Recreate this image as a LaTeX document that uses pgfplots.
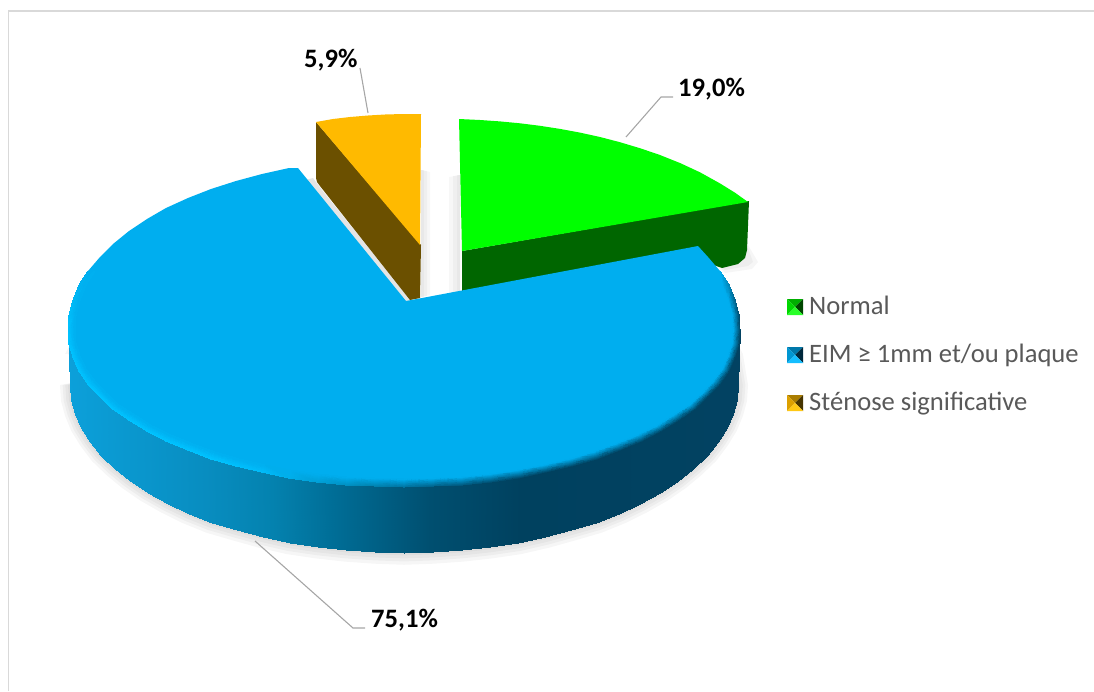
\documentclass[border=0pt]{standalone}
\usepackage{pgfplots}
\usepackage{pgfplotstable}
\usepackage{fontspec}
\setmainfont{Carlito}
\pgfplotsset{compat=1.18}

\definecolor{topblue}{RGB}{0,174,239}
\definecolor{topgreen}{RGB}{0,255,0}
\definecolor{sidegreen}{RGB}{0,102,0}
\definecolor{toporange}{RGB}{255,186,0}
\definecolor{sideorange}{RGB}{107,80,0}
\definecolor{legendtext}{RGB}{89,89,89}
\definecolor{leader}{RGB}{166,166,166}
\definecolor{framegray}{RGB}{217,217,217}

% Lower outline of the large slice, closed behind its top face, for the cast shadow
\pgfplotstableread{
x y
75 356
90 328
404 325
70 385
71 400
75 414
81 428
90 442
101 456
115 469
130 481
148 493
168 504
189 514
212 523
237 530
263 537
290 543
318 547
346 550
375 552
404 553
433 552
462 550
490 547
518 543
545 537
571 530
596 523
619 514
640 504
660 493
678 481
693 469
707 456
718 442
727 428
733 414
737 400
738 385
733 356
718 328
404 325
}\shadowoutline

% Wall of the large slice: upper edge, then lower edge
\pgfplotstableread{
x y
68 330
69 344
73 357
79 371
88 384
100 396
113 409
129 420
147 431
166 441
188 450
211 459
236 466
262 472
289 478
317 482
346 485
375 486
404 487
433 486
462 485
491 482
519 478
546 472
572 466
597 459
620 450
642 441
661 431
679 420
695 409
708 396
720 384
729 371
735 357
739 344
740 330
70 385
71 400
75 414
81 428
90 442
101 456
115 469
130 481
148 493
168 504
189 514
212 523
237 530
263 537
290 543
318 547
346 550
375 552
404 553
433 552
462 550
490 547
518 543
545 537
571 530
596 523
619 514
640 504
660 493
678 481
693 469
707 456
718 442
727 428
733 414
737 400
738 385
}\wallblue

% Bevel along the rim of the large slice: outer edge, then inner edge, with a colour per vertex
\pgfplotstableread{
x y c
88 271 0,.682,.937
79 285 0,.698,.945
73 300 0,.722,.961
69 315 0,.745,.98
68 330 0,.765,1
69 344 0,.765,1
73 357 0,.765,1
79 371 0,.765,1
88 384 0,.765,1
100 396 0,.765,1
113 409 0,.765,1
129 420 0,.765,1
147 431 0,.765,1
166 441 0,.765,1
188 450 0,.765,1
211 459 0,.765,1
236 466 0,.753,.992
262 472 0,.737,.98
289 478 0,.686,.922
317 482 0,.627,.843
346 485 0,.569,.765
375 486 0,.51,.686
404 487 0,.451,.627
433 486 0,.392,.549
462 485 0,.345,.49
491 482 0,.306,.439
519 478 0,.275,.4
546 472 0,.275,.4
572 466 0,.275,.4
597 459 0,.275,.4
620 450 0,.275,.4
642 441 0,.275,.4
661 431 0,.275,.4
679 420 0,.275,.4
695 409 0,.275,.4
708 396 0,.275,.4
720 384 0,.275,.4
729 371 0,.275,.4
735 357 0,.275,.4
739 344 0,.275,.4
740 330 0,.275,.4
739 315 0,.294,.431
735 300 0,.373,.529
729 285 0,.51,.706
720 271 0,.682,.937
95 271 0,.682,.937
86 285 0,.682,.937
80 300 0,.682,.937
76 315 0,.682,.937
75 330 0,.682,.937
76 343 0,.682,.937
80 356 0,.682,.937
86 369 0,.682,.937
95 381 0,.682,.937
106 393 0,.682,.937
119 405 0,.682,.937
135 415 0,.682,.937
152 426 0,.682,.937
171 435 0,.682,.937
193 444 0,.682,.937
215 452 0,.682,.937
239 459 0,.682,.937
265 465 0,.682,.937
291 470 0,.682,.937
319 474 0,.682,.937
347 477 0,.682,.937
375 478 0,.682,.937
404 479 0,.682,.937
433 478 0,.682,.937
461 477 0,.682,.937
489 474 0,.682,.937
517 470 0,.682,.937
543 465 0,.682,.937
569 459 0,.682,.937
593 452 0,.682,.937
615 444 0,.682,.937
637 435 0,.682,.937
656 426 0,.682,.937
673 415 0,.682,.937
689 405 0,.682,.937
702 393 0,.682,.937
713 381 0,.682,.937
722 369 0,.682,.937
728 356 0,.682,.937
732 343 0,.682,.937
733 330 0,.682,.937
732 315 0,.682,.937
728 300 0,.682,.937
722 285 0,.682,.937
713 271 0,.682,.937
}\bevelblue

% Four-faced legend key: top, left, right, bottom; arguments are y0, ymid, y1 and the face colours
\newcommand{\legendkey}[7]{%
  \addplot[fill={#4},draw=none] coordinates {(787,#1)(803,#1)(795,#2)} -- cycle;
  \addplot[fill={#5},draw=none] coordinates {(787,#1)(795,#2)(787,#3)} -- cycle;
  \addplot[fill={#6},draw=none] coordinates {(803,#1)(795,#2)(803,#3)} -- cycle;
  \addplot[fill={#7},draw=none] coordinates {(787,#3)(795,#2)(803,#3)} -- cycle;
}

\begin{document}
\begin{tikzpicture}
\begin{axis}[
  width=1094pt, height=691pt, scale only axis,
  xmin=0, xmax=1094, ymin=0, ymax=691, y dir=reverse,
  axis lines=none,
  colormap={wall}{
    rgb255(70)=(12,160,218)
    rgb255(207)=(8,141,192)
    rgb255(273)=(4,130,175)
    rgb255(333)=(0,110,151)
    rgb255(430)=(0,79,112)
    rgb255(520)=(0,65,95)
    rgb255(738)=(2,66,98)
  },
]
% chart area frame (top and left sides)
\addplot[draw=framegray,line width=1.6pt] coordinates {(8.5,691)(8.5,11)(1094,11)};

% cast shadow under the large slice
\addplot[fill=black,fill opacity=0.035,draw=none] table[x expr={404+(\thisrow{x}-404)*1.030},y expr={385+(\thisrow{y}-385)*1.070}] {\shadowoutline} -- cycle;
\addplot[fill=black,fill opacity=0.035,draw=none] table[x expr={404+(\thisrow{x}-404)*1.022},y expr={385+(\thisrow{y}-385)*1.050}] {\shadowoutline} -- cycle;
\addplot[fill=black,fill opacity=0.035,draw=none] table[x expr={404+(\thisrow{x}-404)*1.014},y expr={385+(\thisrow{y}-385)*1.032}] {\shadowoutline} -- cycle;
\addplot[fill=black,fill opacity=0.035,draw=none] table[x expr={404+(\thisrow{x}-404)*1.006},y expr={385+(\thisrow{y}-385)*1.014}] {\shadowoutline} -- cycle;

% soft shadows in the gap between the small slices
\addplot[fill=black,fill opacity=0.03,draw=none] coordinates {(421,170)(430,172)(430,295)(421,297)} -- cycle;
\addplot[fill=black,fill opacity=0.03,draw=none] coordinates {(421,170)(427,171)(427,296)(421,297)} -- cycle;
\addplot[fill=black,fill opacity=0.03,draw=none] coordinates {(421,170)(424,170)(424,297)(421,297)} -- cycle;
\addplot[fill=black,fill opacity=0.03,draw=none] coordinates {(460,175)(449,177)(449,294)(460,292)} -- cycle;
\addplot[fill=black,fill opacity=0.03,draw=none] coordinates {(460,175)(453,176)(453,293)(460,292)} -- cycle;
\addplot[fill=black,fill opacity=0.03,draw=none] coordinates {(460,175)(457,175)(457,292)(460,292)} -- cycle;

% shadow below the outer corner of the green slice
\addplot[fill=black,fill opacity=0.035,draw=none] coordinates {(715,262)(748,245)(758,262)(752,269)(725,273)} -- cycle;
\addplot[fill=black,fill opacity=0.035,draw=none] coordinates {(715,262)(748,248)(753,262)(748,266)(725,270)} -- cycle;

% light strip where the orange slice casts onto the large slice
\addplot[fill=black!10,draw=none] coordinates {(313,178)(322,190)(412,302)(400,302)(305,180)} -- cycle;

% orange slice
\addplot[fill=sideorange,draw=none] coordinates {(316,122)(316,178)(317,182)(320,186)(410,300)(420,298)(421,245)} -- cycle;
\addplot[fill=toporange,draw=none] coordinates {(316,122)(333,119)(350,117)(368,115.5)(385,114.5)(403,114)(421,114)(420,245)} -- cycle;

% green slice
\addplot[fill=sidegreen,draw=none] coordinates {(462,251)(749,201)(747,250)(745,258)(738,264)(722,268)(705,262)(462,292)} -- cycle;
\addplot[fill=topgreen,draw=none] coordinates {(459,119)(480,120)(500,121.4)(520,123.3)(540,125.8)(560,128.9)(580,132.6)(600,137)(620,142.2)(640,148.2)(660,155)(680,163)(700,172.3)(720,183.4)(735,192.7)(748,202)(462,251)} -- cycle;

% large blue slice: wall, top face and bevel
\addplot[surf,shader=interp,mesh/cols=37,point meta=x,draw=none] table {\wallblue};
\addplot[fill=topblue,draw=none] coordinates {
 (406,301)(298,168)(289,168)(262,174)(236,181)(211,189)(188,198)(166,208)(147,219)(129,231)(113,244)(100,257)(88,271)(79,285)(73,300)(69,315)
 (68,330)(69,344)(73,357)(79,371)(88,384)(100,396)(113,409)(129,420)(147,431)(166,441)(188,450)(211,459)(236,466)(262,472)(289,478)(317,482)(346,485)(375,486)
 (404,487)(433,486)(462,485)(491,482)(519,478)(546,472)(572,466)(597,459)(620,450)(642,441)(661,431)(679,420)(695,409)(708,396)(720,384)(729,371)(735,357)(739,344)
 (740,330)(739,315)(735,300)(729,285)(720,271)(708,257)(698,246)
} -- cycle;
\addplot[surf,shader=interp,mesh/cols=45,mesh/color input=explicit,draw=none] table[meta=c] {\bevelblue};

% leader lines
\addplot[draw=leader,line width=1.1pt] coordinates {(626,137)(661,97)(673,97)};
\addplot[draw=leader,line width=1.1pt] coordinates {(360,68)(368,113)};
\addplot[draw=leader,line width=1.1pt] coordinates {(255,541)(353,628)(365,628)};

% legend keys
\legendkey{299}{307}{315}{rgb,255:red,0;green,175;blue,0}{rgb,255:red,0;green,215;blue,0}{rgb,255:red,0;green,70;blue,0}{rgb,255:red,40;green,255;blue,40}
\legendkey{347}{355}{363}{rgb,255:red,0;green,120;blue,170}{rgb,255:red,0;green,150;blue,210}{rgb,255:red,0;green,40;blue,60}{rgb,255:red,20;green,190;blue,255}
\legendkey{395}{403}{411}{rgb,255:red,170;green,125;blue,0}{rgb,255:red,220;green,160;blue,0}{rgb,255:red,70;green,52;blue,0}{rgb,255:red,255;green,200;blue,20}

% legend entries
\node[anchor=base west,inner sep=0pt,text=legendtext,font=\fontsize{26.6}{30}\selectfont] at (axis cs:809,314) {Normal};
\node[anchor=base west,inner sep=0pt,text=legendtext,font=\fontsize{26.6}{30}\selectfont] at (axis cs:809,362) {EIM ≥ 1mm et/ou plaque};
\node[anchor=base west,inner sep=0pt,text=legendtext,font=\fontsize{26.6}{30}\selectfont] at (axis cs:809,410) {Sténose significative};

% data labels
\node[anchor=base west,inner sep=0pt,text=black,font=\fontsize{26.6}{30}\selectfont\bfseries] at (axis cs:678,96) {19,0\%};
\node[anchor=base west,inner sep=0pt,text=black,font=\fontsize{26.6}{30}\selectfont\bfseries] at (axis cs:304,67) {5,9\%};
\node[anchor=base west,inner sep=0pt,text=black,font=\fontsize{26.6}{30}\selectfont\bfseries] at (axis cs:371,627) {75,1\%};

% keep the whole plotting area on the page
\path (axis cs:0,0) -- (axis cs:1094,691);
\end{axis}
\end{tikzpicture}
\end{document}
